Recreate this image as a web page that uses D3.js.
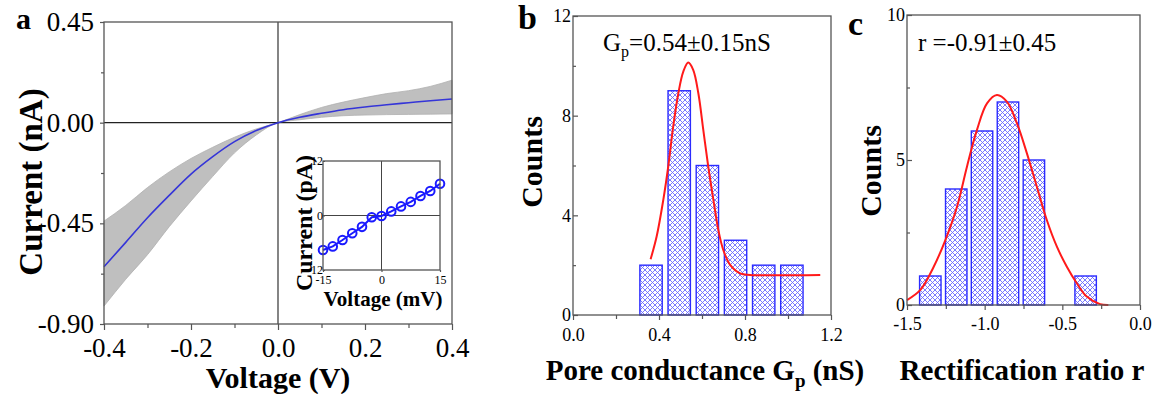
<!DOCTYPE html>
<html>
<head>
<meta charset="utf-8">
<script src="https://cdnjs.cloudflare.com/ajax/libs/d3/7.8.5/d3.min.js"></script>
<style>
    body { margin: 0; background: #fff; }
    svg { display: block; }
    text { font-family: "Liberation Serif", "Times New Roman", serif; fill: #000; }
    .bold { font-weight: bold; }
</style>
</head>
<body>
<svg id="chart" width="1160" height="394"></svg>
<script>
// ---- panel a : I-V curve (nA vs V) ----
const ivVoltage = [-0.4, -0.35, -0.3, -0.25, -0.2, -0.15, -0.1, -0.05, 0, 0.05, 0.1, 0.15, 0.2, 0.25, 0.3, 0.35, 0.4];
const ivMean  = [-0.644, -0.535, -0.425, -0.325, -0.23, -0.152, -0.085, -0.035, 0, 0.024, 0.042, 0.058, 0.07, 0.08, 0.089, 0.098, 0.106];
const ivUpper = [-0.44, -0.37, -0.29, -0.22, -0.16, -0.11, -0.065, -0.028, 0, 0.036, 0.068, 0.092, 0.112, 0.13, 0.143, 0.162, 0.19];
const ivLower = [-0.82, -0.70, -0.59, -0.465, -0.35, -0.24, -0.135, -0.055, 0, 0.013, 0.024, 0.031, 0.034, 0.036, 0.037, 0.038, 0.039];
const ivXTicks = [-0.4, -0.2, 0, 0.2, 0.4];
const ivYTicks = [0.45, 0, -0.45, -0.9];

// inset : small-voltage I-V (pA vs mV)
const insetVoltage = [-15, -12.5, -10, -7.5, -5, -2.5, 0, 2.5, 5, 7.5, 10, 12.5, 15];
const insetCurrent = [-7.6, -6.8, -5.4, -3.9, -2.5, -0.4, -0.1, 0.9, 2.0, 3.0, 4.3, 5.4, 7.0];
const insetXTicks = [-15, 0, 15];
const insetYTicks = [-12, 0, 12];

// ---- panel b : pore conductance histogram ----
const gpCenters = [0.363, 0.494, 0.625, 0.756, 0.887, 1.018];
const gpCounts = [2, 9, 6, 3, 2, 2];
const gpFitX = [0.361, 0.389, 0.42, 0.443, 0.466, 0.49, 0.513, 0.536, 0.559, 0.583, 0.606, 0.629, 0.653, 0.676, 0.699, 0.731, 0.777, 0.824, 1.15];
const gpFitY = [2.24, 3.15, 4.62, 5.96, 7.56, 8.9, 9.77, 10.13, 9.84, 8.9, 7.43, 5.96, 4.62, 3.41, 2.61, 2.01, 1.67, 1.61, 1.61];
const gpXTicks = [0, 0.4, 0.8, 1.2];
const gpYTicks = [0, 4, 8, 12];

// ---- panel c : rectification ratio histogram ----
const rCenters = [-1.35, -1.183, -1.017, -0.85, -0.683, -0.517, -0.35];
const rCounts = [1, 4, 6, 7, 5, 0, 1];
const rFitX = [-1.5, -1.414, -1.328, -1.253, -1.178, -1.114, -1.05, -0.985, -0.921, -0.857, -0.792, -0.728, -0.664, -0.6, -0.535, -0.471, -0.407, -0.343, -0.257, -0.204];
const rFitY = [0.17, 0.52, 1.32, 2.24, 3.39, 4.77, 6.03, 6.95, 7.24, 7.01, 6.26, 5.23, 4.08, 2.93, 2.01, 1.32, 0.75, 0.29, 0.03, 0];
const rXTicks = [-1.5, -1.0, -0.5, 0.0];
const rYTicks = [0, 5, 10];

const svg = d3.select("#chart");
const frameColor = "#555";

// hatch pattern for the histogram bars
const defs = svg.append("defs");
const pat = defs.append("pattern")
    .attr("id", "hatch")
    .attr("patternUnits", "userSpaceOnUse")
    .attr("width", 5).attr("height", 5);
pat.append("rect").attr("width", 5).attr("height", 5).attr("fill", "#fff");
pat.append("path").attr("d", "M0,0 L5,5 M5,0 L0,5")
    .attr("stroke", "#5050ff").attr("stroke-width", 0.9).attr("opacity", 0.85);

// little helper to draw an axis and style it
function drawAxis(g, axis, fontSize) {
    g.call(axis);
    g.select(".domain").remove();
    g.selectAll(".tick line").attr("stroke", frameColor).attr("stroke-width", 1.2);
    g.selectAll(".tick text").attr("font-size", fontSize).attr("fill", "#000")
        .attr("font-family", "Liberation Serif, serif");
}

function frame(g, x0, x1, y0, y1) {
    g.append("rect")
        .attr("x", x0).attr("y", y0)
        .attr("width", x1 - x0).attr("height", y1 - y0)
        .attr("fill", "none").attr("stroke", frameColor).attr("stroke-width", 1.3);
}

// ================= panel a =================
const xA = d3.scaleLinear().domain([-0.4, 0.4]).range([104, 452]);
const yA = d3.scaleLinear().domain([-0.9, 0.45]).range([324, 22]);
const gA = svg.append("g");

const band = d3.area()
    .x((d, i) => xA(ivVoltage[i]))
    .y0((d, i) => yA(ivLower[i]))
    .y1((d, i) => yA(ivUpper[i]))
    .curve(d3.curveMonotoneX);
gA.append("path").datum(ivVoltage)
    .attr("d", band)
    .attr("fill", "#bfbfbf").attr("stroke", "#b0b0b0").attr("stroke-width", 0.8);

// zero lines
gA.append("line").attr("x1", xA(0)).attr("x2", xA(0)).attr("y1", yA(0.45)).attr("y2", yA(-0.9))
    .attr("stroke", "#333").attr("stroke-width", 1.2);
gA.append("line").attr("x1", xA(-0.4)).attr("x2", xA(0.4)).attr("y1", yA(0)).attr("y2", yA(0))
    .attr("stroke", "#222").attr("stroke-width", 1.2);

const meanLine = d3.line()
    .x((d, i) => xA(ivVoltage[i]))
    .y((d, i) => yA(ivMean[i]))
    .curve(d3.curveMonotoneX);
gA.append("path").datum(ivMean)
    .attr("d", meanLine)
    .attr("fill", "none").attr("stroke", "#3535d8").attr("stroke-width", 1.6);

frame(gA, 104, 452, 22, 324);

drawAxis(gA.append("g").attr("transform", "translate(0,324)"),
    d3.axisBottom(xA).tickValues(ivXTicks).tickSize(6).tickPadding(8).tickFormat(d => d.toFixed(1)), 27);
drawAxis(gA.append("g").attr("transform", "translate(0,324)"),
    d3.axisBottom(xA).tickValues([-0.3, -0.1, 0.1, 0.3]).tickSize(4).tickFormat(""), 0);
drawAxis(gA.append("g").attr("transform", "translate(104,0)"),
    d3.axisLeft(yA).tickValues(ivYTicks).tickSize(4).tickPadding(6).tickFormat(d => d.toFixed(2)), 27);
drawAxis(gA.append("g").attr("transform", "translate(104,0)"),
    d3.axisLeft(yA).tickValues([0.225, -0.225, -0.675]).tickSize(3).tickFormat(""), 0);

gA.append("text").attr("class", "bold").attr("x", 16).attr("y", 29)
    .attr("font-size", 30).text("a");
gA.append("text").attr("class", "bold")
    .attr("transform", "translate(42,182) rotate(-90)")
    .attr("text-anchor", "middle").attr("font-size", 33).text("Current (nA)");
gA.append("text").attr("class", "bold").attr("x", 278).attr("y", 388)
    .attr("text-anchor", "middle").attr("font-size", 30).text("Voltage (V)");

// ---- inset ----
const xI = d3.scaleLinear().domain([-15, 15]).range([323, 440]);
const yI = d3.scaleLinear().domain([-12, 12]).range([270, 161]);
const gI = svg.append("g");
gI.append("rect").attr("x", 323).attr("y", 161).attr("width", 117).attr("height", 109).attr("fill", "#fff");
gI.append("line").attr("x1", xI(0)).attr("x2", xI(0)).attr("y1", yI(12)).attr("y2", yI(-12))
    .attr("stroke", "#444").attr("stroke-width", 1);
gI.append("line").attr("x1", xI(-15)).attr("x2", xI(15)).attr("y1", yI(0)).attr("y2", yI(0))
    .attr("stroke", "#444").attr("stroke-width", 1);

gI.append("path").datum(insetCurrent)
    .attr("d", d3.line().x((d, i) => xI(insetVoltage[i])).y(d => yI(d)))
    .attr("fill", "none").attr("stroke", "#1a1aff").attr("stroke-width", 2);
gI.selectAll("circle").data(insetCurrent).enter().append("circle")
    .attr("cx", (d, i) => xI(insetVoltage[i]))
    .attr("cy", d => yI(d))
    .attr("r", 4.3)
    .attr("fill", "none").attr("stroke", "#1a1aff").attr("stroke-width", 2);

frame(gI, 323, 440, 161, 270);
drawAxis(gI.append("g").attr("transform", "translate(0,270)"),
    d3.axisBottom(xI).tickValues(insetXTicks).tickSize(2).tickPadding(3).tickFormat(d => String(d)), 12);
drawAxis(gI.append("g").attr("transform", "translate(323,0)"),
    d3.axisLeft(yI).tickValues(insetYTicks).tickSize(-2).tickPadding(0).tickFormat(d => String(d)), 12);
gI.append("text").attr("class", "bold")
    .attr("transform", "translate(312,223) rotate(-90)")
    .attr("text-anchor", "middle").attr("font-size", 24).text("Current (pA)");
gI.append("text").attr("class", "bold").attr("x", 383).attr("y", 306)
    .attr("text-anchor", "middle").attr("font-size", 21).text("Voltage (mV)");

// ================= histogram panels =================
function histPanel(opts) {
    const g = svg.append("g");
    const x = d3.scaleLinear().domain(opts.xDomain).range([opts.left, opts.right]);
    const y = d3.scaleLinear().domain(opts.yDomain).range([opts.bottom, opts.top]);

    // bars
    g.selectAll("rect.bar")
        .data(opts.counts.map((c, i) => ({ c: c, x: opts.centers[i] })).filter(d => d.c > 0))
        .enter().append("rect")
        .attr("class", "bar")
        .attr("x", d => x(d.x - opts.barW / 2))
        .attr("width", d => x(d.x + opts.barW / 2) - x(d.x - opts.barW / 2))
        .attr("y", d => y(d.c))
        .attr("height", d => y(0) - y(d.c))
        .attr("fill", "url(#hatch)")
        .attr("stroke", "#2b2bff").attr("stroke-width", 1.4);

    // gaussian fit
    g.append("path").datum(opts.fitY)
        .attr("d", d3.line().x((d, i) => x(opts.fitX[i])).y(d => y(d)).curve(d3.curveCatmullRom))
        .attr("fill", "none").attr("stroke", "#ff1a1a").attr("stroke-width", 2);

    frame(g, opts.left, opts.right, opts.top, opts.bottom);

    drawAxis(g.append("g").attr("transform", `translate(0,${opts.bottom})`),
        d3.axisBottom(x).tickValues(opts.xTicks).tickSize(5).tickPadding(opts.xPad).tickFormat(d => d.toFixed(1)), 18);
    drawAxis(g.append("g").attr("transform", `translate(0,${opts.bottom})`),
        d3.axisBottom(x).tickValues(opts.xMinor).tickSize(4).tickFormat(""), 0);
    drawAxis(g.append("g").attr("transform", `translate(${opts.left},0)`),
        d3.axisLeft(y).tickValues(opts.yTicks).tickSize(-5).tickPadding(2).tickFormat(d => String(d)), 18);
    drawAxis(g.append("g").attr("transform", `translate(${opts.left},0)`),
        d3.axisLeft(y).tickValues(opts.yMinor).tickSize(-3).tickFormat(""), 0);

    g.append("text").attr("class", "bold").attr("x", opts.letterX).attr("y", opts.letterY)
        .attr("font-size", 34).text(opts.letter);
    g.append("text").attr("class", "bold")
        .attr("transform", `translate(${opts.yTitleX},${opts.yTitleY}) rotate(-90)`)
        .attr("text-anchor", "middle").attr("font-size", 30).text("Counts");
    return g;
}

const gB = histPanel({
    xDomain: [0, 1.2], yDomain: [0, 12],
    left: 573, right: 831, top: 16, bottom: 315,
    centers: gpCenters, counts: gpCounts, barW: 0.104,
    fitX: gpFitX, fitY: gpFitY,
    xTicks: gpXTicks, xMinor: [0.2, 0.6, 1.0], yTicks: gpYTicks, yMinor: [2, 6, 10],
    xPad: 8, letter: "b", letterX: 518, letterY: 29, yTitleX: 542, yTitleY: 162
});
const gpLabel = gB.append("text").attr("x", 603).attr("y", 51).attr("font-size", 25);
gpLabel.append("tspan").text("G");
gpLabel.append("tspan").attr("font-size", 16).attr("dy", 6).text("p");
gpLabel.append("tspan").attr("dy", -6).text("=0.54\u00b10.15nS");
const bTitle = gB.append("text").attr("class", "bold").attr("x", 705).attr("y", 380)
    .attr("text-anchor", "middle").attr("font-size", 29);
bTitle.append("tspan").text("Pore conductance G");
bTitle.append("tspan").attr("font-size", 19).attr("dy", 7).text("p");
bTitle.append("tspan").attr("dy", -7).text(" (nS)");

const gC = histPanel({
    xDomain: [-1.5, 0], yDomain: [0, 10],
    left: 907, right: 1140, top: 15, bottom: 305,
    centers: rCenters, counts: rCounts, barW: 0.138,
    fitX: rFitX, fitY: rFitY,
    xTicks: rXTicks, xMinor: [-1.25, -0.75, -0.25], yTicks: rYTicks, yMinor: [2.5, 7.5],
    xPad: 7, letter: "c", letterX: 848, letterY: 35, yTitleX: 881, yTitleY: 171
});
gC.append("text").attr("x", 918).attr("y", 51).attr("font-size", 25).text("r =-0.91\u00b10.45");
gC.append("text").attr("class", "bold").attr("x", 1022).attr("y", 380)
    .attr("text-anchor", "middle").attr("font-size", 29).text("Rectification ratio r");
</script>
</body>
</html>
